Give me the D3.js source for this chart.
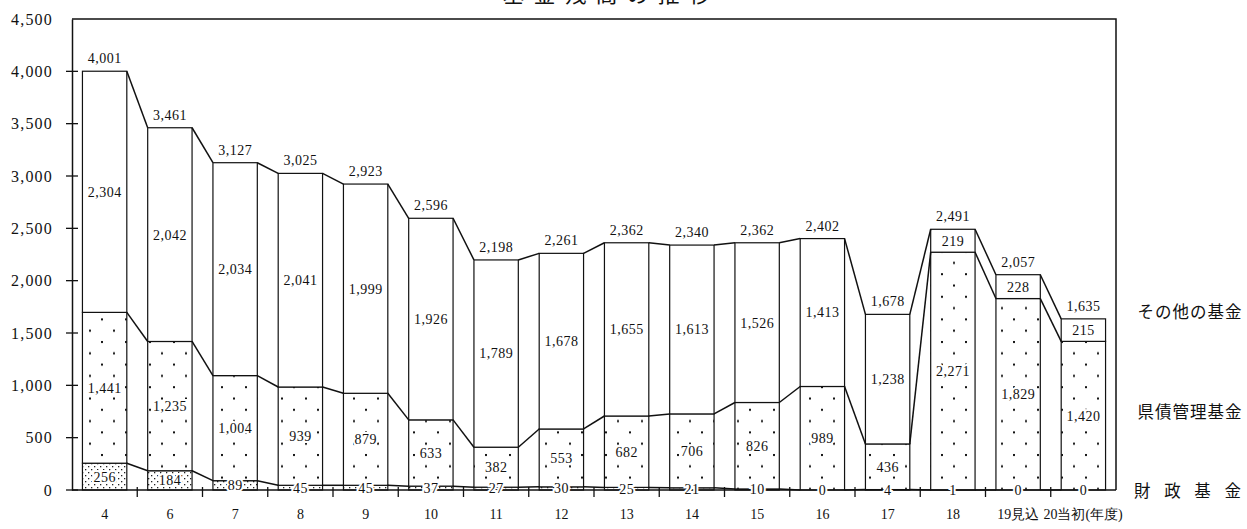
<!DOCTYPE html>
<html>
<head>
<meta charset="utf-8">
<script src="https://cdn.jsdelivr.net/npm/d3@7"></script>
<style>
  html, body { margin: 0; padding: 0; background: #fff; }
  svg { display: block; }
</style>
</head>
<body>
<svg id="chart" width="1247" height="529"></svg>
<script>
// 年度
const years = ["4", "6", "7", "8", "9", "10", "11", "12", "13", "14", "15", "16", "17", "18", "19見込", "20当初"];
// 財政基金（億円）
const zaisei = [256, 184, 89, 45, 45, 37, 27, 30, 25, 21, 10, 0, 4, 1, 0, 0];
// 県債管理基金
const kensai = [1441, 1235, 1004, 939, 879, 633, 382, 553, 682, 706, 826, 989, 436, 2271, 1829, 1420];
// その他の基金
const sonota = [2304, 2042, 2034, 2041, 1999, 1926, 1789, 1678, 1655, 1613, 1526, 1413, 1238, 219, 228, 215];
// 合計
const totals = [4001, 3461, 3127, 3025, 2923, 2596, 2198, 2261, 2362, 2340, 2362, 2402, 1678, 2491, 2057, 1635];
const seriesKeys = ["zaisei", "kensai", "sonota"];
const seriesNames = ["財 政 基 金", "県債管理基金", "その他の基金"];
const yTicks = [0, 500, 1000, 1500, 2000, 2500, 3000, 3500, 4000, 4500];

(function () {
  const svg = d3.select("#chart");
  const pLeft = 72, pRight = 1116, pTop = 19, pBottom = 490;
  const serif = "'Liberation Serif', 'DejaVu Serif', serif";
  const jp = "'Noto Sans CJK JP', sans-serif";

  const rows = years.map((yr, i) => ({ year: yr, zaisei: zaisei[i], kensai: kensai[i], sonota: sonota[i], total: totals[i] }));
  const stacked = d3.stack().keys(seriesKeys)(rows);

  const x = d3.scaleBand().domain(years).range([pLeft, pRight]).paddingInner(0.32).paddingOuter(0.16);
  const y = d3.scaleLinear().domain([0, 4500]).range([pBottom, pTop]);

  // fill patterns
  const defs = svg.append("defs");
  const pSparse = defs.append("pattern").attr("id", "sparse").attr("patternUnits", "userSpaceOnUse")
    .attr("width", 24).attr("height", 22.6);
  pSparse.append("rect").attr("width", 24).attr("height", 22.6).attr("fill", "#fff");
  pSparse.append("rect").attr("x", 5).attr("y", 2).attr("width", 2).attr("height", 2).attr("fill", "#111");
  pSparse.append("rect").attr("x", 17).attr("y", 13.3).attr("width", 2).attr("height", 2).attr("fill", "#111");

  const pDense = defs.append("pattern").attr("id", "dense").attr("patternUnits", "userSpaceOnUse")
    .attr("width", 6).attr("height", 6);
  pDense.append("rect").attr("width", 6).attr("height", 6).attr("fill", "#fff");
  pDense.append("rect").attr("x", 1).attr("y", 1).attr("width", 1.3).attr("height", 1.3).attr("fill", "#222");
  pDense.append("rect").attr("x", 4).attr("y", 4).attr("width", 1.3).attr("height", 1.3).attr("fill", "#222");

  const fills = { zaisei: "url(#dense)", kensai: "url(#sparse)", sonota: "#fff" };

  // title (runs off the top edge)
  svg.append("text").attr("x", 611).attr("y", 2).attr("text-anchor", "middle")
    .attr("font-family", jp).attr("font-size", 22).attr("letter-spacing", 9)
    .attr("fill", "#111").text("基金残高の推移");

  // plot frame: top and right border
  svg.append("path")
    .attr("d", `M${pLeft},${y(4500)}H${pRight}V${pBottom}`)
    .attr("fill", "none").attr("stroke", "#111").attr("stroke-width", 1.5);

  // bars
  const layer = svg.append("g");
  stacked.forEach(s => {
    layer.selectAll(null).data(s).join("rect")
      .attr("x", d => x(d.data.year))
      .attr("width", x.bandwidth())
      .attr("y", d => y(d[1]))
      .attr("height", d => y(d[0]) - y(d[1]))
      .attr("fill", fills[s.key])
      .attr("stroke", "#111").attr("stroke-width", 1.2);
  });

  // series lines joining the stack levels of neighbouring bars
  stacked.forEach(s => {
    const segs = [];
    for (let i = 0; i < s.length - 1; i++) {
      segs.push([[x(years[i]) + x.bandwidth(), y(s[i][1])], [x(years[i + 1]), y(s[i + 1][1])]]);
    }
    svg.append("g").selectAll("line").data(segs).join("line")
      .attr("x1", d => d[0][0]).attr("y1", d => d[0][1])
      .attr("x2", d => d[1][0]).attr("y2", d => d[1][1])
      .attr("stroke", "#111").attr("stroke-width", 1.5);
  });

  // y axis
  const yAxis = svg.append("g").attr("transform", `translate(${pLeft},0)`)
    .call(d3.axisLeft(y).tickValues(yTicks).tickFormat(d3.format(",")).tickSize(0).tickPadding(19));
  yAxis.select(".domain").attr("stroke", "#111").attr("stroke-width", 1.5);
  yAxis.selectAll("text").attr("font-family", serif).attr("font-size", 16)
    .attr("letter-spacing", 1.2).attr("fill", "#111");
  svg.append("g").selectAll("line").data(yTicks.slice(0, -1)).join("line")
    .attr("x1", pLeft - 6).attr("x2", pLeft + 6)
    .attr("y1", d => y(d)).attr("y2", d => y(d))
    .attr("stroke", "#111").attr("stroke-width", 1.3);

  // x axis baseline with ticks between categories
  svg.append("line").attr("x1", pLeft).attr("x2", pRight).attr("y1", y(0)).attr("y2", y(0))
    .attr("stroke", "#111").attr("stroke-width", 1.5);
  const step = x.step();
  svg.append("g").selectAll("line").data(years.slice(1)).join("line")
    .attr("x1", d => x(d) - step * 0.16).attr("x2", d => x(d) - step * 0.16)
    .attr("y1", y(0) - 3).attr("y2", y(0) + 7)
    .attr("stroke", "#111").attr("stroke-width", 1.3);

  // category labels
  const catLabels = svg.append("g").attr("font-size", 14).attr("fill", "#111");
  years.forEach((yr, i) => {
    const cx = x(yr) + x.bandwidth() / 2;
    const t = catLabels.append("text").attr("y", 519).attr("font-family", serif);
    if (i === years.length - 1) {
      t.attr("x", cx - 40).attr("text-anchor", "start").text(yr + "(年度)");
    } else {
      t.attr("x", cx).attr("text-anchor", "middle").text(yr);
    }
  });

  // segment value labels
  const fmt = d3.format(",");
  stacked.forEach(s => {
    svg.append("g").selectAll("text").data(s).join("text")
      .attr("x", d => x(d.data.year) + x.bandwidth() / 2)
      .attr("y", d => (y(d[0]) + y(d[1])) / 2)
      .attr("dy", "0.35em")
      .attr("text-anchor", "middle")
      .attr("font-family", serif).attr("font-size", 14).attr("letter-spacing", 0.5).attr("fill", "#111")
      .attr("stroke", "#fff").attr("stroke-width", 4).attr("paint-order", "stroke")
      .text(d => fmt(d.data[s.key]));
  });

  // total labels above bars
  svg.append("g").selectAll("text").data(rows).join("text")
    .attr("x", d => x(d.year) + x.bandwidth() / 2)
    .attr("y", d => y(d.total) - 8)
    .attr("text-anchor", "middle")
    .attr("font-family", serif).attr("font-size", 14).attr("letter-spacing", 0.5).attr("fill", "#111")
    .text(d => fmt(d.total));

  // series names at the right
  const nameY = [497, 418, 318];
  svg.append("g").selectAll("text").data(seriesNames).join("text")
    .attr("x", 1190).attr("y", (d, i) => nameY[i])
    .attr("text-anchor", "middle")
    .attr("font-family", jp).attr("font-size", 16.5).attr("fill", "#111")
    .attr("letter-spacing", (d, i) => i === 0 ? 5 : 1)
    .text(d => d);
})();
</script>
</body>
</html>
